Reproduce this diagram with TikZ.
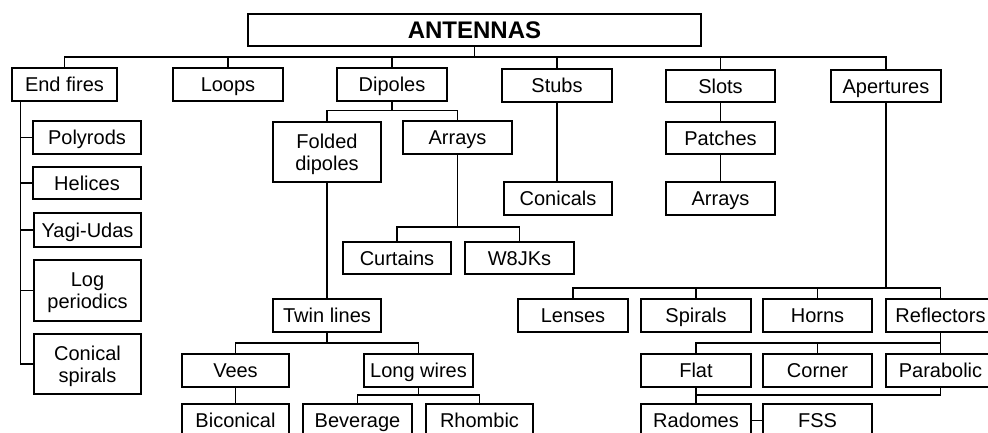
\documentclass[tikz,border=0pt]{standalone}
\usepackage{fontspec}
\setmainfont{Liberation Sans}
\tikzset{
  box/.style={draw, inner sep=0pt, align=center, text height=18.3pt, text depth=4pt,
    font=\fontsize{20}{22}\selectfont},
  twoline/.style={text height=40.3pt, text depth=4pt},
}
\newcommand\abox[7][]{\node[box,#1,minimum width={#5-#3},minimum height={#6-#4}] (#2) at ({(#3+#5)/2},{(#4+#6)/2}) {#7};}
\begin{document}
\begin{tikzpicture}[x=1pt,y=-1pt,line width=1.2pt]
\clip (0,0) rectangle (988,433);
\fill[white] (0,0) rectangle (988,433);
% boxes
\node[box,font=\bfseries\fontsize{24}{28}\selectfont,text height=21.2pt,text depth=4pt,minimum width=453,minimum height=32] (ant) at (474.5,30) {ANTENNAS};
\abox{endf}{12}{68}{117}{101}{End fires}
\abox{loops}{173}{68}{283}{101}{Loops}
\abox{dip}{337}{68}{447}{101}{Dipoles}
\abox{stubs}{502}{69}{612}{102}{Stubs}
\abox{slots}{666}{70}{775}{102}{Slots}
\abox{apert}{831}{70}{941}{102}{Apertures}
\abox{poly}{33}{121}{141}{154}{Polyrods}
\abox{hel}{33}{167}{141}{199}{Helices}
\abox{yagi}{34}{213}{141}{247}{Yagi-Udas}
\abox[twoline]{logp}{34}{260}{141}{321}{Log\\periodics}
\abox[twoline]{cons}{34}{334}{141}{394}{Conical\\spirals}
\abox[twoline]{fold}{273}{122}{381}{182}{Folded\\dipoles}
\abox{arr1}{403}{121}{512}{154}{Arrays}
\abox{conicals}{504}{182}{612}{215}{Conicals}
\abox{patch}{666}{122}{775}{154}{Patches}
\abox{arr2}{666}{182}{775}{215}{Arrays}
\abox{curt}{343}{242}{451}{274}{Curtains}
\abox{w8}{465}{242}{574}{274}{W8JKs}
\abox{twin}{273}{299}{381}{332}{Twin lines}
\abox{lens}{518}{299}{628}{332}{Lenses}
\abox{spir}{641}{299}{751}{332}{Spirals}
\abox{horns}{763}{299}{872}{332}{Horns}
\abox{refl}{886}{299}{995}{332}{Reflectors}
\abox{vees}{182}{354}{289}{387}{Vees}
\abox{lw}{364}{354}{473}{387}{Long wires}
\abox{flat}{641}{354}{751}{387}{Flat}
\abox{corner}{763}{354}{872}{387}{Corner}
\abox{parab}{886}{354}{995}{387}{Parabolic}
\abox{bicon}{182}{404}{289}{437}{Biconical}
\abox{bev}{303}{404}{412}{437}{Beverage}
\abox{rhomb}{426}{404}{533}{437}{Rhombic}
\abox{rad}{641}{404}{751}{437}{Radomes}
\abox{fss}{763}{404}{872}{437}{FSS}
% junction levels
\coordinate (L1) at (0,57);
\coordinate (L2) at (0,110.5);
\coordinate (L3) at (0,227);
\coordinate (L4) at (0,288);
\coordinate (L5) at (0,343);
\coordinate (L6) at (0,395);
% connectors
\foreach \c in {endf,loops,dip,stubs,slots,apert}
  \draw (ant.south) |- (\c.north |- L1) -- (\c.north);
\foreach \c in {fold,arr1}
  \draw (dip.south) |- (\c.north |- L2) -- (\c.north);
\foreach \c in {curt,w8}
  \draw (arr1.south) |- (\c.north |- L3) -- (\c.north);
\foreach \c in {lens,spir,horns,refl}
  \draw (apert.south) |- (\c.north |- L4) -- (\c.north);
\foreach \c in {vees,lw}
  \draw (twin.south) |- (\c.north |- L5) -- (\c.north);
\foreach \c in {flat,corner,parab}
  \draw (refl.south) |- (\c.north |- L5) -- (\c.north);
\foreach \c in {bev,rhomb}
  \draw (lw.south) |- (\c.north |- L6) -- (\c.north);
\draw (fold.south) -- (twin.north);
\draw (vees.south) -- (bicon.north);
\draw (stubs.south) -- (stubs.south |- conicals.north);
\draw (slots.south) -- (patch.north);
\draw (patch.south) -- (arr2.north);
\draw (flat.south) -- (rad.north);
\draw (parab.south) |- (rad.north |- L6);
\draw (rad.east) -- (fss.west);
% end fires comb
\coordinate (ef) at ([xshift=9pt]endf.south west);
\draw (ef) |- (cons.west);
\foreach \c in {poly,hel,yagi,logp}
  \draw (\c.west -| ef) -- (\c.west);
\end{tikzpicture}
\end{document}
